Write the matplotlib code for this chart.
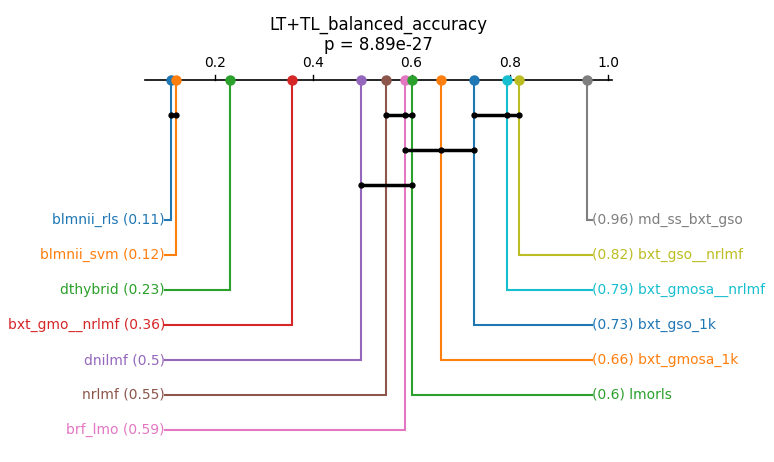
import matplotlib
matplotlib.use("Agg")
import matplotlib.pyplot as plt

title = "LT+TL_balanced_accuracy"
p_value = "8.89e-27"

names = ["blmnii_rls", "blmnii_svm", "dthybrid", "bxt_gmo__nrlmf", "dnilmf",
         "nrlmf", "brf_lmo", "lmorls", "bxt_gmosa_1k", "bxt_gso_1k",
         "bxt_gmosa__nrlmf", "bxt_gso__nrlmf", "md_ss_bxt_gso"]
scores = [0.11, 0.12, 0.23, 0.356, 0.496, 0.548, 0.587, 0.601, 0.66, 0.727,
          0.794, 0.819, 0.957]
colors = ["#1f77b4", "#ff7f0e", "#2ca02c", "#d62728", "#9467bd", "#8c564b",
          "#e377c2", "#2ca02c", "#ff7f0e", "#1f77b4", "#17becf", "#bcbd22",
          "#7f7f7f"]
# groups of methods not significantly different (by name), one list per bar
cliques = [["blmnii_rls", "blmnii_svm"],
           ["nrlmf", "brf_lmo", "lmorls"],
           ["bxt_gso_1k", "bxt_gmosa__nrlmf", "bxt_gso__nrlmf"],
           ["brf_lmo", "bxt_gmosa_1k", "bxt_gso_1k"],
           ["dnilmf", "lmorls"]]
clique_rows = [0, 0, 0, 1, 2]
ticks = [0.2, 0.4, 0.6, 0.8, 1.0]
n_left = 7

W, H = 774, 462
fig = plt.figure(figsize=(W / 100, H / 100), dpi=100)
ax = fig.add_axes([0, 0, 1, 1])
px_per_unit = 491.2
x0 = 116.9
ax.set_xlim(-x0 / px_per_unit, (W - x0) / px_per_unit)
ax.set_ylim(H, 0)
ax.axis("off")

axis_y = 80
axis_lo, axis_hi = 0.057, 1.008
ax.plot([axis_lo, axis_hi], [axis_y, axis_y], color="black", lw=1.2, zorder=2)
for t in ticks:
    ax.plot([t, t], [axis_y, axis_y - 5], color="black", lw=1.0, zorder=2)
    ax.text(t, axis_y - 10, f"{t:.1f}", ha="center", va="bottom", fontsize=10)

xc = (axis_lo + axis_hi) / 2
ax.text(xc, 25, title, ha="center", va="center", fontsize=12)
ax.text(xc, 45, f"p = {p_value}", ha="center", va="center", fontsize=12)

left_x = (165 - x0) / px_per_unit
right_x = (592 - x0) / px_per_unit
row0 = 219.5
row_gap = 35

order = sorted(range(len(scores)), key=lambda i: scores[i])
left = order[:n_left]
right = order[n_left:][::-1]

for k, i in enumerate(left):
    y = row0 + k * row_gap
    ax.plot([scores[i], scores[i], left_x], [axis_y, y, y], color=colors[i],
            lw=1.5, zorder=1, solid_joinstyle="miter")
    ax.text(left_x, y + 0.5, f"{names[i]} ({round(scores[i], 2)})", ha="right",
            va="center", fontsize=10, color=colors[i])
for k, i in enumerate(right):
    y = row0 + k * row_gap
    ax.plot([scores[i], scores[i], right_x], [axis_y, y, y], color=colors[i],
            lw=1.5, zorder=1, solid_joinstyle="miter")
    ax.text(right_x, y + 0.5, f"({round(scores[i], 2)}) {names[i]}", ha="left",
            va="center", fontsize=10, color=colors[i])

for i in range(len(scores)):
    ax.plot(scores[i], axis_y, "o", color=colors[i], ms=6.5, zorder=3)

for members, r in zip(cliques, clique_rows):
    xs = sorted(scores[names.index(m)] for m in members)
    y = 115 + r * 35
    ax.plot([xs[0], xs[-1]], [y, y], color="black", lw=2.5, zorder=4)
    ax.plot(xs, [y] * len(xs), "o", color="black", ms=3.5, zorder=5)

fig.savefig("out.png", dpi=100)
